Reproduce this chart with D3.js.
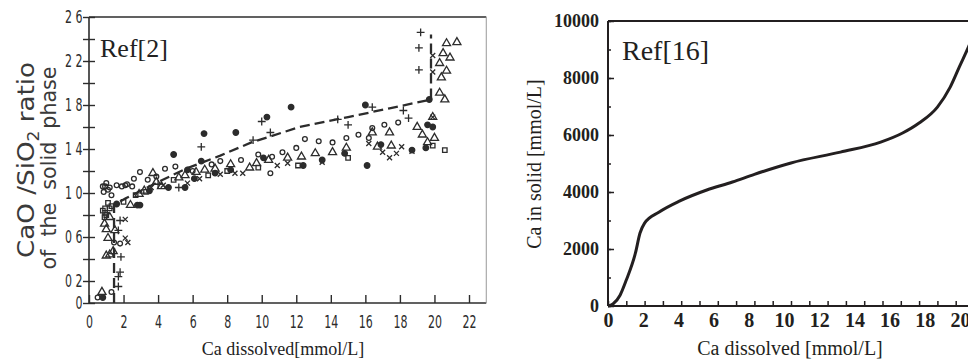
<!DOCTYPE html>
<html>
<head>
<meta charset="utf-8">
<script src="https://cdn.jsdelivr.net/npm/d3@7"></script>
<style>
  html, body { margin: 0; padding: 0; background: #fff; }
  svg { display: block; }
</style>
</head>
<body>
<svg id="chart" width="968" height="359"></svg>
<script>
// ---- left panel (scanned Ref[2]): CaO/SiO2 ratio of the solid vs dissolved Ca
const leftXTicks = [0, 2, 4, 6, 8, 10, 12, 14, 16, 18, 20, 22];
const leftYTicks = [0, 0.2, 0.4, 0.6, 0.8, 1.0, 1.2, 1.4, 1.6, 1.8, 2.0, 2.2, 2.4, 2.6];
const leftYLabelled = [0, 0.2, 0.6, 1.0, 1.4, 1.8, 2.2, 2.6];
const leftYLabels = ["0", "02", "06", "10", "14", "18", "22", "26"];

const circles = [[0.5,0.05],[1.3,0.1],[1.8,0.54],[0.8,1.06],[0.93,1.06],[1.1,1.03],[1.6,1.07],[2.1,1.07],
  [2.5,1.06],[1.3,0.98],[1.9,1.06],[2.2,1.08],[2.6,1.13],[2.95,1.19],[4.4,1.22],[5.0,1.24],[7.1,1.26],
  [7.6,1.29],[10.5,1.18],[10.6,1.33],[11.2,1.37],[12.0,1.41],[12.5,1.49],[13.3,1.47],[14.1,1.46],
  [14.9,1.5],[15.6,1.53],[16.2,1.5],[16.4,1.59],[17.1,1.62],[17.9,1.64],[1.45,0.55],[1.0,1.09],
  [0.85,1.01],[1.2,1.05],[3.4,1.12],[3.9,1.15],[6.0,1.2],[8.8,1.3],[9.8,1.35]];
const triangles = [[0.75,0.1],[1.0,0.67],[1.1,0.59],[1.2,0.44],[1.0,0.43],[1.4,0.47],[1.5,0.66],[2.4,0.89],
  [3.7,1.18],[5.56,1.16],[6.7,1.21],[8.2,1.26],[9.3,1.23],[9.7,1.27],[11.5,1.32],[12.3,1.33],[13.1,1.36],
  [14.1,1.37],[14.9,1.41],[16.4,1.55],[16.7,1.42],[17.4,1.55],[17.5,1.43],[19.0,1.6],[19.3,1.53],
  [19.6,1.46],[20.0,1.5],[19.9,1.69],[20.3,1.91],[20.6,1.85],[20.4,2.05],[20.7,2.11],[20.3,2.18],
  [20.9,2.23],[20.5,2.27],[20.7,2.36],[21.3,2.37],[3.2,1.02],[4.2,1.06],[0.9,0.72],[1.2,0.78],
  [2.9,0.99],[3.9,1.1],[5.2,1.14],[6.2,1.19],[7.3,1.22],[10.4,1.3]];
const squares = [[0.93,0.86],[0.93,0.82],[1.1,0.91],[0.9,0.78],[1.2,0.86],[4.9,1.12],[9.8,1.23],[12.1,1.25],
  [15.0,1.32],[19.9,1.43],[20.6,1.39],[3.3,1.01],[6.9,1.16],[1.0,0.8],[0.8,0.84],[1.3,0.88],[2.0,0.92],
  [2.7,0.98],[8.0,1.2]];
const crosses = [[2.1,0.76],[2.1,0.59],[2.25,0.55],[5.7,1.09],[8.45,1.18],[8.9,1.18],[10.9,1.25],[11.5,1.27],
  [13.5,1.28],[16.2,1.45],[17.0,1.37],[17.4,1.32],[17.8,1.36],[18.1,1.42],[18.7,1.38],[19.9,1.69],
  [19.9,2.1],[19.9,2.25],[3.6,1.05],[4.3,1.07],[6.4,1.13],[7.6,1.17]];
const pluses = [[1.7,0.15],[1.7,0.24],[1.8,0.28],[1.85,0.42],[1.7,0.66],[1.8,0.75],[5.2,1.05],[6.5,1.42],
  [9.5,1.48],[10.0,1.65],[10.5,1.55],[14.4,1.67],[15.0,1.62],[16.4,1.78],[18.2,1.75],[18.5,1.68],
  [19.1,2.12],[19.1,2.32],[19.2,2.46],[4.0,1.08]];
const dots = [[0.8,0.05],[2.8,0.89],[2.95,0.89],[4.6,1.05],[5.56,1.05],[4.9,1.35],[6.1,1.13],[6.5,1.29],
  [5.7,1.21],[6.66,1.54],[8.5,1.55],[10.1,1.32],[10.3,1.69],[11.7,1.78],[12.4,1.25],[13.5,1.3],
  [14.8,1.36],[16.0,1.8],[16.1,1.25],[16.9,1.44],[18.7,1.39],[19.5,1.41],[19.6,1.62],[19.9,1.6],[19.7,1.85],
  [1.6,0.9],[3.5,1.02],[7.3,1.18],[8.2,1.21]];
// dashed fit through the data
const fitLine = [[1.45,0],[1.45,0.89],[2.1,0.95],[4,1.1],[5.6,1.22],[7.6,1.34],[9.4,1.46],[12.2,1.6],
  [15,1.69],[17.4,1.77],[19.8,1.85],[19.8,2.44]];

// ---- right panel (Ref[16]): Ca in solid vs dissolved Ca
const rightCaDissolved = [0, 0.27, 0.66, 1.0, 1.5, 1.75, 2.0, 2.8, 3.9, 5.4, 6.8, 8.0, 10.0, 12.7, 14.9,
  16.1, 17.0, 18.0, 18.7, 19.2, 19.7, 20.0];
const rightCaSolid = [0, 70, 380, 910, 1860, 2560, 2910, 3300, 3680, 4070, 4350, 4620, 5020, 5400, 5750,
  6070, 6420, 6980, 7680, 8390, 9090, 9550];
const rightXTicks = d3.range(0, 21, 1);
const rightXLabels = d3.range(0, 21, 2);
const rightYTicks = d3.range(0, 10001, 1000);
const rightYLabels = d3.range(0, 10001, 2000);

const svg = d3.select("#chart");
const ink = "#2c2c2c";
const condensed = "'DejaVu Sans Condensed', 'DejaVu Sans', sans-serif";
const serif = "'Liberation Serif', 'Times New Roman', serif";

// ================= left =================
const xL = d3.scaleLinear().domain([0, 22]).range([89, 469]);
const yL = d3.scaleLinear().domain([0, 2.6]).range([303, 17]);
const left = svg.append("g");

left.append("line")
  .attr("x1", xL(0)).attr("x2", xL(23))
  .attr("y1", yL(2.6)).attr("y2", yL(2.6))
  .attr("stroke", ink).attr("stroke-width", 1.6);
left.append("line")
  .attr("x1", xL(0)).attr("x2", xL(23))
  .attr("y1", yL(0)).attr("y2", yL(0))
  .attr("stroke", ink).attr("stroke-width", 1.6);
left.append("line")
  .attr("x1", xL(0)).attr("x2", xL(0))
  .attr("y1", yL(0)).attr("y2", yL(2.6))
  .attr("stroke", ink).attr("stroke-width", 1.6);
left.append("line")
  .attr("x1", xL(23)).attr("x2", xL(23))
  .attr("y1", yL(2.6)).attr("y2", yL(0))
  .attr("stroke", "#999").attr("stroke-width", 1);

left.append("g")
  .attr("transform", `translate(0,${yL(0)})`)
  .call(d3.axisBottom(xL).tickValues(leftXTicks).tickSizeInner(-8).tickSizeOuter(0).tickPadding(13))
  .call(g => g.select(".domain").remove())
  .call(g => g.selectAll("line").attr("stroke", ink).attr("stroke-width", 1.4))
  .call(g => g.selectAll("text")
    .attr("fill", ink).attr("font-family", condensed).attr("font-size", 17)
    .attr("transform", "scale(0.72,1)"));

left.append("g")
  .attr("transform", `translate(${xL(0)},0)`)
  .call(d3.axisLeft(yL).tickValues(leftYTicks).tickSizeInner(6).tickSizeOuter(0).tickPadding(1)
    .tickFormat(d => {
      const i = leftYLabelled.findIndex(v => Math.abs(v - d) < 1e-6);
      return i < 0 ? "" : leftYLabels[i];
    }))
  .call(g => g.select(".domain").remove())
  .call(g => g.selectAll("line").attr("x1", 6).attr("stroke", ink).attr("stroke-width", 1.4))
  .call(g => g.selectAll("text")
    .attr("fill", ink).attr("font-family", condensed).attr("font-size", 17)
    .attr("letter-spacing", 5).attr("x", -4)
    .attr("transform", "scale(0.72,1)"));

left.append("path")
  .datum(fitLine)
  .attr("d", d3.line().x(d => xL(d[0])).y(d => yL(d[1])))
  .attr("fill", "none").attr("stroke", ink)
  .attr("stroke-width", 2.3).attr("stroke-dasharray", "10,5");

const markerSets = [
  { data: circles, type: d3.symbolCircle, size: 18, fill: "none" },
  { data: triangles, type: d3.symbolTriangle, size: 28, fill: "none" },
  { data: squares, type: d3.symbolSquare, size: 20, fill: "none" },
  { data: crosses, type: d3.symbolTimes, size: 18, fill: "none" },
  { data: pluses, type: d3.symbolPlus, size: 22, fill: "none" },
  { data: dots, type: d3.symbolCircle, size: 24, fill: ink }
];
markerSets.forEach(set => {
  left.append("g").selectAll("path")
    .data(set.data)
    .enter()
    .append("path")
    .attr("transform", d => `translate(${xL(d[0])},${yL(d[1])})`)
    .attr("d", d3.symbol().type(set.type).size(set.size))
    .attr("fill", set.fill)
    .attr("stroke", ink)
    .attr("stroke-width", 1.3);
});

left.append("text")
  .attr("x", 100).attr("y", 57)
  .attr("font-family", serif).attr("font-size", 26).attr("fill", "#222")
  .text("Ref[2]");

const yTitle = left.append("g").attr("fill", "#3a3a3a").attr("font-family", condensed);
const line1 = yTitle.append("text")
  .attr("transform", "translate(34,160) rotate(-90)")
  .attr("text-anchor", "middle").attr("font-size", 23)
  .attr("textLength", 196).attr("lengthAdjust", "spacingAndGlyphs");
line1.append("tspan").text("CaO /SiO");
line1.append("tspan").attr("font-size", 15).attr("dy", 5).text("2");
line1.append("tspan").attr("dy", -5).text(" ratio");
yTitle.append("text")
  .attr("transform", "translate(56,168) rotate(-90)")
  .attr("text-anchor", "middle").attr("font-size", 21)
  .attr("textLength", 203).attr("lengthAdjust", "spacingAndGlyphs")
  .attr("xml:space", "preserve")
  .text("of  the  solid  phase");

left.append("text")
  .attr("x", 283).attr("y", 355)
  .attr("text-anchor", "middle")
  .attr("font-family", serif).attr("font-size", 18).attr("fill", "#222")
  .text("Ca dissolved[mmol/L]");

// ================= right =================
const xR = d3.scaleLinear().domain([0, 20]).range([608, 974]);
const xRLabel = d3.scaleLinear().domain([0, 20]).range([608, 960]);
const yR = d3.scaleLinear().domain([0, 10000]).range([306, 21]);
const dark = "#231f20";
const right = svg.append("g");

right.append("line")
  .attr("x1", xR(0)).attr("x2", xR(20))
  .attr("y1", yR(10000)).attr("y2", yR(10000))
  .attr("stroke", dark).attr("stroke-width", 2);
right.append("line")
  .attr("x1", xR(0)).attr("x2", xR(20))
  .attr("y1", yR(0)).attr("y2", yR(0))
  .attr("stroke", dark).attr("stroke-width", 2);
right.append("line")
  .attr("x1", xR(0)).attr("x2", xR(0))
  .attr("y1", yR(0)).attr("y2", yR(10000))
  .attr("stroke", dark).attr("stroke-width", 2);

right.append("g")
  .attr("transform", `translate(0,${yR(0)})`)
  .call(d3.axisBottom(xR).tickValues(rightXTicks).tickSizeInner(-5).tickSizeOuter(0).tickFormat(""))
  .call(g => g.select(".domain").remove())
  .call(g => g.selectAll("line").attr("stroke", dark).attr("stroke-width", 1.5));
right.append("g")
  .attr("transform", `translate(0,${yR(0)})`)
  .call(d3.axisBottom(xRLabel).tickValues(rightXLabels).tickSize(0).tickPadding(7))
  .call(g => g.select(".domain").remove())
  .call(g => g.selectAll("text")
    .attr("fill", dark).attr("font-family", serif).attr("font-weight", "bold").attr("font-size", 20));

right.append("g")
  .attr("transform", `translate(${xR(0)},0)`)
  .call(d3.axisLeft(yR).tickValues(rightYTicks).tickSizeInner(-3).tickSizeOuter(0).tickFormat(""))
  .call(g => g.select(".domain").remove())
  .call(g => g.selectAll("line").attr("stroke", dark).attr("stroke-width", 1.5));
right.append("g")
  .attr("transform", `translate(${xR(0)},0)`)
  .call(d3.axisLeft(yR).tickValues(rightYLabels).tickSizeInner(-6).tickSizeOuter(0).tickPadding(9)
    .tickFormat(d3.format("d")))
  .call(g => g.select(".domain").remove())
  .call(g => g.selectAll("line").attr("stroke", dark).attr("stroke-width", 1.5))
  .call(g => g.selectAll("text")
    .attr("fill", dark).attr("font-family", serif).attr("font-weight", "bold").attr("font-size", 18));

right.append("path")
  .datum(d3.zip(rightCaDissolved, rightCaSolid))
  .attr("d", d3.line().x(d => xR(d[0])).y(d => yR(d[1])).curve(d3.curveMonotoneX))
  .attr("fill", "none").attr("stroke", dark).attr("stroke-width", 3);

right.append("text")
  .attr("x", 622).attr("y", 60)
  .attr("font-family", serif).attr("font-size", 28).attr("fill", dark)
  .text("Ref[16]");

right.append("text")
  .attr("transform", "translate(541,164) rotate(-90)")
  .attr("text-anchor", "middle")
  .attr("font-family", serif).attr("font-size", 20).attr("fill", dark)
  .text("Ca in solid [mmol/L]");

right.append("text")
  .attr("x", 790).attr("y", 355)
  .attr("text-anchor", "middle")
  .attr("font-family", serif).attr("font-size", 20).attr("fill", dark)
  .text("Ca dissolved [mmol/L]");
</script>
</body>
</html>
